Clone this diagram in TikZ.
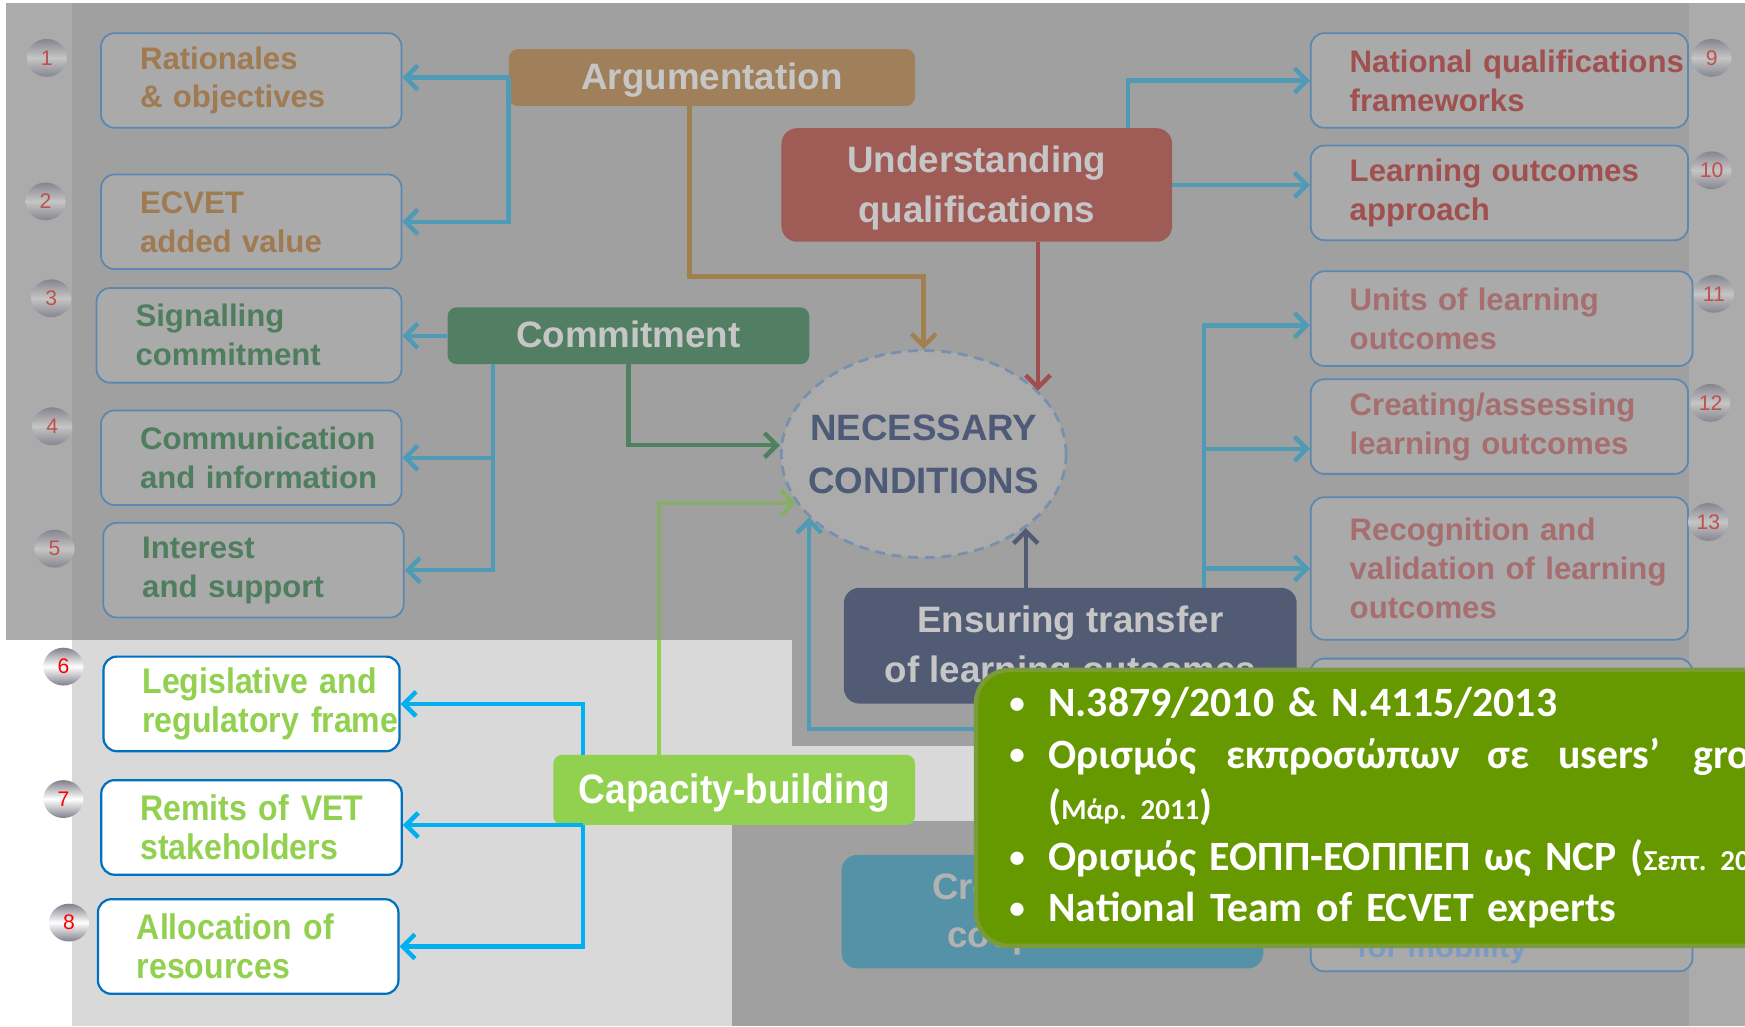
\documentclass[tikz,border=0pt]{standalone}
\usepackage{fontspec}
\setmainfont{Liberation Sans}
\newfontfamily\narrowsans[FakeStretch=0.9]{Liberation Sans}
\newfontfamily\calibrisans{Carlito}
\usepackage{tikz}
\usetikzlibrary{arrows.meta, shapes.geometric}
\usepackage{xcolor}
\hyphenpenalty=10000
\exhyphenpenalty=10000
\frenchspacing
\definecolor{dimgray}{HTML}{A0A0A0}
\definecolor{stripgray}{HTML}{ABABAB}
\definecolor{lightarea}{HTML}{D9D9D9}
\definecolor{boxfill}{HTML}{AAAAAA}
\definecolor{boxedge}{HTML}{5A88B0}
\definecolor{liteedge}{HTML}{0070C0}
\definecolor{argbrown}{HTML}{A0805A}
\definecolor{undred}{HTML}{9F5C56}
\definecolor{comgreen}{HTML}{527F63}
\definecolor{ensblue}{HTML}{515C74}
\definecolor{capgreen}{HTML}{92D050}
\definecolor{capdim}{HTML}{88AC6C}
\definecolor{coopteal}{HTML}{5592A8}
\definecolor{popgreen}{HTML}{669900}
\definecolor{popedge}{HTML}{7A9A3C}
\definecolor{connblue}{HTML}{4F9BB5}
\definecolor{brightblue}{HTML}{00B0F0}
\definecolor{argline}{HTML}{A0804F}
\definecolor{undline}{HTML}{A04E4E}
\definecolor{comline}{HTML}{4F8060}
\definecolor{headtext}{HTML}{C6C6C6}
\definecolor{browntext}{HTML}{A07A50}
\definecolor{greentext}{HTML}{4E7E5E}
\definecolor{redtext}{HTML}{A0504F}
\definecolor{fadedred}{HTML}{A66E6E}
\definecolor{necblue}{HTML}{4E5B78}
\definecolor{necedge}{HTML}{7890B0}
\definecolor{mobtext}{HTML}{7D9AC6}
\definecolor{dimnum}{HTML}{C0504D}
\definecolor{balledge}{HTML}{80808C}
\definecolor{dimballedge}{HTML}{85858F}

\tikzset{
  dimbox/.style={draw=boxedge, line width=1.6, fill=boxfill, rounded corners=12,
    anchor=north west, align=left, inner xsep=35, inner ysep=0, minimum height=85,
    font=\fontsize{28}{35}\selectfont\bfseries},
  litebox/.style={draw=liteedge, line width=2, fill=white, rounded corners=12,
    anchor=north west, align=left, inner xsep=35, inner ysep=0, minimum height=85,
    text=capgreen, font=\narrowsans\bfseries\fontsize{32}{35}\selectfont},
  headbox/.style={rounded corners=8, anchor=north west, align=center, inner sep=0,
    text depth=2pt, text=headtext, font=\fontsize{33}{45}\selectfont\bfseries},
  dimball/.style={ellipse, minimum width=36, minimum height=34, inner sep=0,
    top color=dimballedge, bottom color=dimballedge, middle color=gray!45,
    text=dimnum, font=\fontsize{19}{19}\selectfont},
  liteball/.style={ellipse, minimum width=36, minimum height=34, inner sep=0,
    top color=balledge, bottom color=balledge, middle color=white,
    text=red, font=\fontsize{19}{19}\selectfont},
  conn/.style={line width=4, -{Straight Barb[length=11pt, width=22pt]}},
  popup/.style={draw=popedge, line width=4, fill=popgreen, rounded corners=30,
    anchor=north west, minimum height=248, text width=740, inner xsep=30,
    align=left, text=white, font=\calibrisans\bfseries\fontsize{37.5}{46}\selectfont}
}
\newcommand{\popbullet}{\makebox[35pt][l]{\raisebox{3pt}{\fontsize{28}{28}\selectfont•}}}
\newcommand{\popsmall}[1]{{\fontsize{26}{46}\selectfont #1}}

\begin{document}
\begin{tikzpicture}[x=1pt, y=-1pt]
  \useasboundingbox (0,0) rectangle (1568,922);
  \clip (0,0) rectangle (1568,922);
  % Background panels
  \fill[white] (0,0) rectangle (1568,922);
  \fill[lightarea] (65,575) rectangle (1568,922);
  \fill[dimgray] (5,3) rectangle (1568,575);
  \fill[dimgray] (712,575) rectangle (1568,670);
  \fill[dimgray] (658,738) rectangle (1568,922);
  \fill[stripgray] (5,3) rectangle (65,575);
  \fill[stripgray] (1518,3) rectangle (1568,922);

  % Left column
  \node[dimbox, text=browntext, text width=200] (rationales) at (90,29) {Rationales\\\&~objectives};
  \node[dimbox, text=browntext, text width=200] (ecvet) at (90,156) {ECVET\\added~value};
  \node[dimbox, text=greentext, text width=204] (signalling) at (86,258) {Signalling\\commitment};
  \node[dimbox, text=greentext, text width=200] (communication) at (90,368) {Communication\\and~information};
  \node[dimbox, text=greentext, text width=200] (interest) at (92,469) {Interest\\and~support};
  \node[litebox, text width=196] (legislative) at (92,589) {Legislative~and\\regulatory~frame};
  \node[litebox, text width=200] (remits) at (90,700) {Remits~of~VET\\stakeholders};
  \node[litebox, text width=200] (allocation) at (87,807) {Allocation~of\\resources};

  % Right column
  \node[dimbox, text=redtext, text width=269] (nqf) at (1177,29) {National~qualifications\\frameworks};
  \node[dimbox, text=redtext, text width=269] (loapproach) at (1177,130) {Learning~outcomes\\approach};
  \node[dimbox, text=fadedred, text width=273] (units) at (1177,243) {Units~of~learning\\outcomes};
  \node[dimbox, text=fadedred, text width=269] (creating) at (1177,340) {Creating/assessing\\learning~outcomes};
  \node[dimbox, text=fadedred, text width=269, minimum height=128] (recognition) at (1177,446) {Recognition~and\\validation~of~learning\\outcomes};
  \node[dimbox, text width=273, minimum height=281] (mobility) at (1177,591) {};
  \node[anchor=base west, text=mobtext, font=\fontsize{28}{35}\selectfont\bfseries] (mobilitytext) at (1216,860) {for mobility};

  % Numbers
  \foreach \n/\x/\y in {1/42/52, 2/41/181, 3/46/268, 4/47/383, 5/49/493,
                        9/1538/52, 10/1538/153, 11/1540/264, 12/1537/362, 13/1535/469}
    \node[dimball] (num\n) at (\x,\y) {\n};
  \foreach \n/\x/\y in {6/57/599, 7/57/718, 8/62/829}
    \node[liteball] (num\n) at (\x,\y) {\n};

  % Central blocks
  \node[headbox, fill=argbrown, minimum width=365, minimum height=51] (argumentation) at (457,44) {Argumentation};
  \node[headbox, fill=undred, minimum width=351, minimum height=102, rounded corners=14] (understanding) at (702,115) {Understanding\\qualifications};
  \node[headbox, fill=comgreen, minimum width=325, minimum height=51] (commitment) at (402,276) {Commitment};
  \node[ellipse, draw=necedge, line width=2.5, dash pattern=on 9pt off 6pt, fill=stripgray,
    minimum width=256, minimum height=186, inner sep=0, align=center, text=necblue,
    font=\fontsize{33}{48}\selectfont\bfseries] (necessary) at (830,408)
    {\makebox[150pt]{NECESSARY}\\\makebox[150pt]{CONDITIONS}};
  \node[headbox, fill=ensblue, minimum width=407, minimum height=104, rounded corners=14] (ensuring) at (758,528) {Ensuring transfer\\of learning outcomes};
  \node[headbox, fill=capgreen, text=white, minimum width=325, minimum height=63,
    font=\narrowsans\bfseries\fontsize{37}{40}\selectfont] (capacity) at (497,678) {Capacity-building};
  \node[headbox, fill=coopteal, text=headtext!90!black, minimum width=379, minimum height=102,
    rounded corners=14, font=\fontsize{33}{43}\selectfont\bfseries] (cooperation) at (756,768) {Creating trust\\cooperation};

  % Argumentation links
  \draw[conn, connblue] (argumentation.west) -- (argumentation.west -| rationales.east);
  \draw[conn, connblue] (argumentation.west) |- (ecvet.east);
  \draw[conn, argline] ([xshift=-20pt]argumentation.south) -- ++(0,153) -| (necessary.north);
  % Understanding links
  \draw[conn, connblue] ([xshift=136pt]understanding.north) |- (nqf.west);
  \draw[conn, connblue] (understanding.east) -- (understanding.east -| loapproach.west);
  \draw[conn, undline] ([xshift=55pt]understanding.south) -- ([xshift=55pt]understanding.south |- necessary.29);
  % Commitment links
  \draw[conn, connblue] (commitment.west) -- (commitment.west -| signalling.east);
  \draw[conn, connblue] ([xshift=41pt]commitment.south west) |- (communication.east);
  \draw[conn, connblue] ([xshift=41pt]commitment.south west) |- (interest.east);
  \draw[conn, comline] (commitment.south) |- ([yshift=8pt]necessary.west);
  % Capacity-building links
  \draw[conn, brightblue] ([xshift=27pt]capacity.north west) |- (legislative.east);
  \draw[conn, brightblue] ([xshift=27pt]capacity.south west) -- (remits.east |- capacity.south west);
  \draw[conn, brightblue] ([xshift=27pt]capacity.south west) |- (allocation.east);
  \draw[conn, capgreen] ([xshift=95pt]capacity.north west) |- (necessary.201);
  \begin{scope}
    \clip (0,0) rectangle (1568,575);
    \draw[conn, capdim] ([xshift=95pt]capacity.north west) |- (necessary.201);
  \end{scope}
  % Ensuring transfer links
  \draw[conn, ensblue] ([xshift=-40pt]ensuring.north) -- ([xshift=-40pt]ensuring.north |- necessary.-36);
  \draw[conn, connblue] ([xshift=120pt]ensuring.north) |- ([yshift=-6pt]units.west);
  \draw[conn, connblue] ([xshift=120pt]ensuring.north) |- ([yshift=-20pt]creating.west);
  \draw[conn, connblue] ([xshift=120pt]ensuring.north) |- (recognition.west);
  \coordinate (loopstart) at (900,655);
  \draw[conn, connblue] (loopstart) -| (necessary.209);

  % Popup
  \node[popup] (popup) at (875,600) {%
    \mbox{\popbullet N.3879/2010 \& N.4115/2013}\\
    \mbox{\popbullet Ορισμός\hspace{27pt}εκπροσώπων\hspace{25pt}σε\hspace{26pt}users’\hspace{30pt}groups}\\
    \mbox{\hspace*{35pt}(\popsmall{Μάρ. 2011})}\\
    \mbox{\popbullet Ορισμός ΕΟΠΠ-ΕΟΠΠΕΠ ως NCP (\popsmall{Σεπτ. 2011})}\\
    \mbox{\popbullet National Team of ECVET experts}};
\end{tikzpicture}
\end{document}
